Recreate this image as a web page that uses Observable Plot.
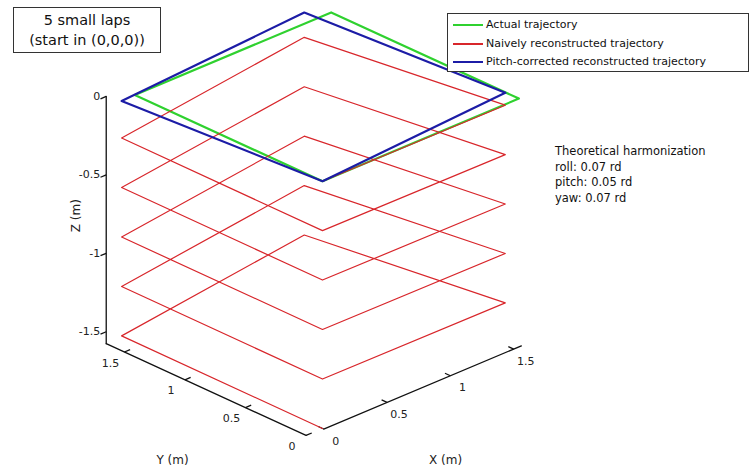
<!DOCTYPE html>
<html>
<head>
<meta charset="utf-8">
<script src="https://cdn.jsdelivr.net/npm/d3@7"></script>
<script src="https://cdn.jsdelivr.net/npm/@observablehq/plot@0.6"></script>
<style>
  html, body { margin: 0; padding: 0; background: #fff; }
  #wrap { position: relative; width: 749px; height: 471px; font-family: "DejaVu Sans", Verdana, sans-serif; color: #111; }
  #wrap svg { position: absolute; left: 0; top: 0; }
  .box { position: absolute; background: #fff; border: 1px solid #333; box-sizing: border-box; }
  #title { left: 13px; top: 7px; width: 148px; height: 46px; font-size: 14.5px; line-height: 20px; text-align: center; padding-top: 2px; }
  #legend { left: 447px; top: 13px; width: 302px; height: 59px; font-size: 11px; }
  .row { position: absolute; left: 5px; height: 18px; line-height: 18px; white-space: nowrap; }
  .row span.ln { display: inline-block; width: 30px; height: 2px; vertical-align: middle; margin-right: 3px; }
  #note { position: absolute; left: 555px; top: 144px; font-size: 11.5px; line-height: 15.5px; white-space: nowrap; }
</style>
</head>
<body>
<div id="wrap"></div>
<script>
// ---- data (metres) ----
const actualX = [0, 1.55, 1.55, 0, 0];
const actualY = [0, 0, 1.55, 1.55, 0];
const actualZ = [0, 0, 0, 0, 0];

const correctedX = [0, 1.546, 1.438, -0.108, 0];
const correctedY = [0, 0.108, 1.655, 1.546, 0];
const correctedZ = [0, 0, 0, 0, 0];

const naiveX = [0, 1.546, 1.438, -0.108, 0, 1.546, 1.438, -0.108, 0, 1.546, 1.438, -0.108, 0, 1.546, 1.438, -0.108, 0, 1.546, 1.438, -0.108, 0];
const naiveY = [0, 0.108, 1.655, 1.546, 0, 0.108, 1.655, 1.546, 0, 0.108, 1.655, 1.546, 0, 0.108, 1.655, 1.546, 0, 0.108, 1.655, 1.546, 0];
const naiveZ = [0, -0.079, -0.158, -0.236, -0.315, -0.394, -0.473, -0.551, -0.630, -0.709, -0.788, -0.867, -0.945, -1.024, -1.103, -1.182, -1.261, -1.339, -1.418, -1.497, -1.576];

const xTicks = [0, 0.5, 1, 1.5];
const yTicks = [0, 0.5, 1, 1.5];
const zTicks = [0, -0.5, -1, -1.5];
const xTickLabels = ["0", "0.5", "1", "1.5"];
const yTickLabels = ["0", "0.5", "1", "1.5"];
const zTickLabels = ["0", "-0.5", "-1", "-1.5"];

const xLim = [0, 1.56];
const yLim = [0, 1.65];
const zLim = [-1.576, 0];
const axisXpos = -0.13;   // x where Y and Z axes sit
const axisYpos = -0.01;   // y where X axis sits

// ---- orthographic view (azimuth/elevation projection) ----
const view = { ux: 0.8075, uy: -0.7718, vx: 0.3397, vy: 0.3544 };
const proj = (x, y, z) => ({ u: view.ux * x + view.uy * y, v: view.vx * x + view.vy * y + z });
const path = (X, Y, Z) => X.map((x, i) => proj(x, Y[i], Z[i]));

const actual = path(actualX, actualY, actualZ);
const naive = path(naiveX, naiveY, naiveZ);
const corrected = path(correctedX, correctedY, correctedZ);

const axisX = [proj(xLim[0], axisYpos, zLim[0]), proj(xLim[1], axisYpos, zLim[0])];
const axisY = [proj(axisXpos, yLim[0], zLim[0]), proj(axisXpos, yLim[1], zLim[0])];
const axisZ = [proj(axisXpos, yLim[1], zLim[0]), proj(axisXpos, yLim[1], zLim[1])];

const tk = 0.045;
const xt = xTicks.map((t, i) => ({ a: proj(t, axisYpos, zLim[0]), b: proj(t, axisYpos + tk, zLim[0]), label: xTickLabels[i] }));
const yt = yTicks.map((t, i) => ({ a: proj(axisXpos, t, zLim[0]), b: proj(axisXpos + tk, t, zLim[0]), label: yTickLabels[i] }));
const zt = zTicks.map((t, i) => ({ a: proj(axisXpos, yLim[1], t), b: proj(axisXpos - tk, yLim[1], t), label: zTickLabels[i] }));
const ticks = [...xt, ...yt, ...zt];

// axis titles placed in the floor plane, below the X and Y axes
const xTitlePos = proj(0.22, -0.786, zLim[0]);
const yTitlePos = proj(-0.905, 0.292, zLim[0]);
const zTitlePos = proj(axisXpos, yLim[1], -0.76);

const red = "#d8262b", green = "#2fd12f", blue = "#1c1ca6";

const chart = Plot.plot({
  width: 749,
  height: 471,
  margin: 0,
  x: { domain: [-2.0523, 2.7215], range: [0, 749], axis: null },
  y: { domain: [-1.8502, 1.1517], range: [471, 0], axis: null },
  style: { fontFamily: "DejaVu Sans, Verdana, sans-serif", fontSize: "11px", background: "transparent" },
  marks: [
    Plot.line(axisX, { x: "u", y: "v", stroke: "#111", strokeWidth: 1.3 }),
    Plot.line(axisY, { x: "u", y: "v", stroke: "#111", strokeWidth: 1.3 }),
    Plot.line(axisZ, { x: "u", y: "v", stroke: "#111", strokeWidth: 1.3 }),
    Plot.link(ticks, { x1: d => d.a.u, y1: d => d.a.v, x2: d => d.b.u, y2: d => d.b.v, stroke: "#111", strokeWidth: 1.3 }),
    Plot.text(xt, { x: d => d.a.u, y: d => d.a.v, text: "label", dx: 12, dy: 12, fill: "#222", fontSize: 11 }),
    Plot.text(yt, { x: d => d.a.u, y: d => d.a.v, text: "label", dx: -14, dy: 11, fill: "#222", fontSize: 11 }),
    Plot.text(zt, { x: d => d.a.u, y: d => d.a.v, text: "label", dx: -6, dy: 0, textAnchor: "end", fill: "#222", fontSize: 11 }),
    Plot.line(actual, { x: "u", y: "v", stroke: green, strokeWidth: 2.2 }),
    Plot.line(naive, { x: "u", y: "v", stroke: red, strokeWidth: 1.2 }),
    Plot.line(corrected, { x: "u", y: "v", stroke: blue, strokeWidth: 2.2 }),
    Plot.text(["X (m)"], { x: xTitlePos.u, y: xTitlePos.v, text: d => d, fontSize: 12, fill: "#222" }),
    Plot.text(["Y (m)"], { x: yTitlePos.u, y: yTitlePos.v, text: d => d, fontSize: 12, fill: "#222" }),
    Plot.text(["Z (m)"], { x: zTitlePos.u, y: zTitlePos.v, dx: -30, text: d => d, rotate: -90, fontSize: 12, fill: "#222" })
  ]
});

const wrap = document.getElementById("wrap");
wrap.appendChild(chart);

const title = document.createElement("div");
title.className = "box";
title.id = "title";
title.innerHTML = "5 small laps<br>(start in (0,0,0))";
wrap.appendChild(title);

const legendItems = [
  { label: "Actual trajectory", color: green },
  { label: "Naively reconstructed trajectory", color: red },
  { label: "Pitch-corrected reconstructed trajectory", color: blue }
];
const legend = document.createElement("div");
legend.className = "box";
legend.id = "legend";
legendItems.forEach((it, i) => {
  const r = document.createElement("div");
  r.className = "row";
  r.style.top = (2 + i * 18.5) + "px";
  r.innerHTML = `<span class="ln" style="background:${it.color}"></span>${it.label}`;
  legend.appendChild(r);
});
wrap.appendChild(legend);

const noteLines = ["Theoretical harmonization", "roll: 0.07 rd", "pitch: 0.05 rd", "yaw: 0.07 rd"];
const note = document.createElement("div");
note.id = "note";
note.innerHTML = noteLines.join("<br>");
wrap.appendChild(note);
</script>
</body>
</html>
